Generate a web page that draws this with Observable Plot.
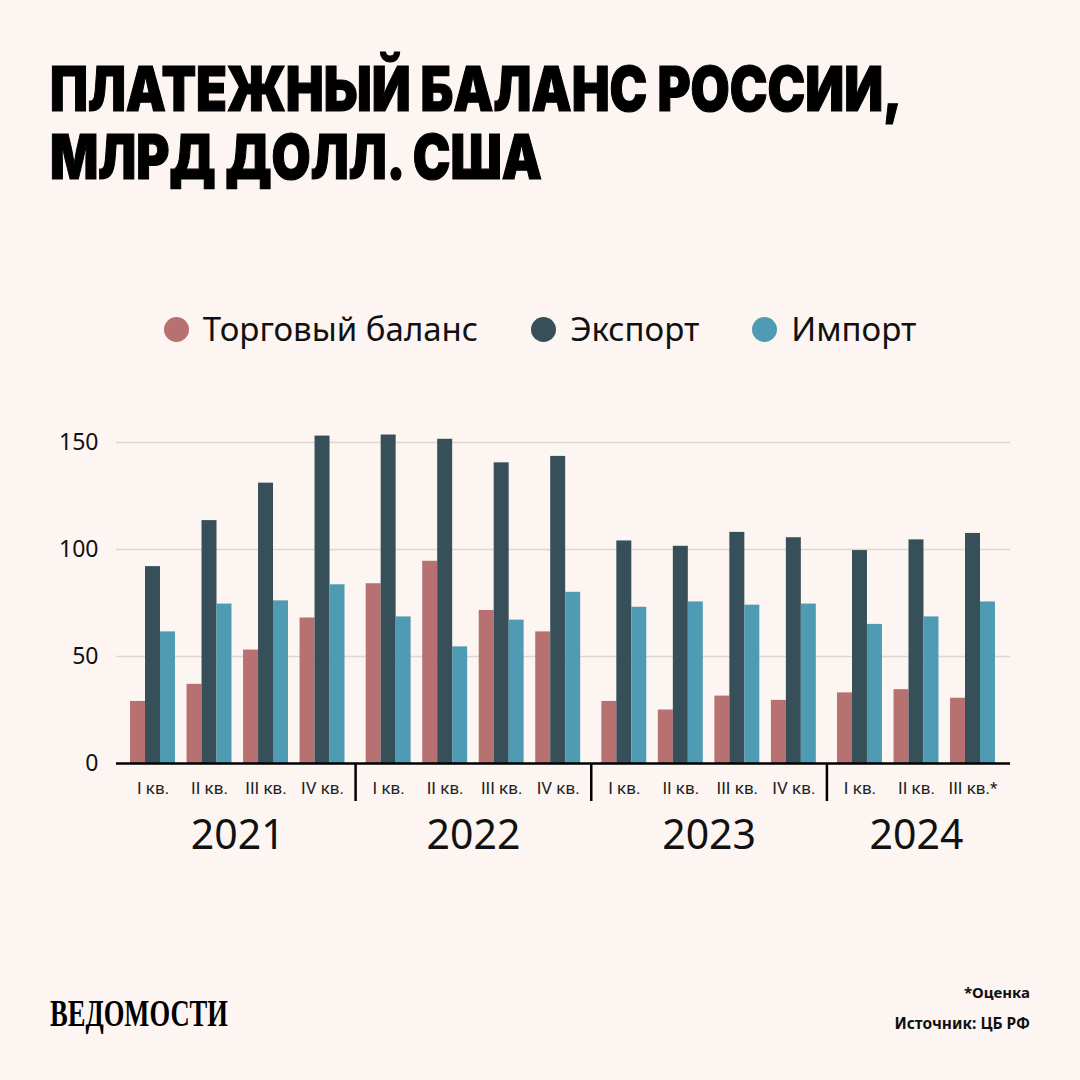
<!DOCTYPE html>
<html><head><meta charset="utf-8">
<script src="https://cdn.jsdelivr.net/npm/d3@7"></script>
<script src="https://cdn.jsdelivr.net/npm/@observablehq/plot@0.6"></script>
<style>
html,body{margin:0;padding:0;background:#fcf5f1;}
#page{position:relative;width:1080px;height:1080px;overflow:hidden;background:#fcf5f1;font-family:"Noto Sans",sans-serif;color:#111;}
.tline{position:absolute;left:50px;white-space:nowrap;font-family:Inter,"DejaVu Sans",sans-serif;font-weight:900;font-size:62px;line-height:1;transform-origin:0 0;color:#000;-webkit-text-stroke:1.2px #000;}
#legend{position:absolute;top:308px;left:0;width:1080px;display:flex;justify-content:center;align-items:center;gap:53px;font-size:33px;line-height:42px;}
.li{display:flex;align-items:center;gap:14px;}
.sw{width:25px;height:25px;border-radius:50%;}
#chart{position:absolute;top:400px;left:0;}
#logo{position:absolute;left:50px;top:994px;font-family:"Liberation Serif",serif;font-weight:bold;font-size:38px;line-height:1;white-space:nowrap;transform-origin:0 0;color:#000;}
.note{position:absolute;right:50px;font-weight:bold;white-space:nowrap;color:#111;}
</style></head>
<body><div id="page">
<div class="tline" id="t1">ПЛАТЕЖНЫЙ БАЛАНС РОССИИ,</div>
<div class="tline" id="t2">МЛРД ДОЛЛ. США</div>
<div id="legend"></div>
<div id="chart"></div>
<div id="logo">ВЕДОМОСТИ</div>
<div class="note" style="top:982px;font-size:15px;">*Оценка</div>
<div class="note" style="top:1012px;font-size:15.5px;">Источник: ЦБ РФ</div>
</div>
<script>
const years = ["2021","2022","2023","2024"];
const quarterLabels = ["I кв.","II кв.","III кв.","IV кв.","I кв.","II кв.","III кв.","IV кв.","I кв.","II кв.","III кв.","IV кв.","I кв.","II кв.","III кв.*"];
const quarterYears = ["2021","2021","2021","2021","2022","2022","2022","2022","2023","2023","2023","2023","2024","2024","2024"];
const tradeBalance = [29, 37, 53, 68, 84, 94.5, 71.5, 61.5, 29, 25, 31.5, 29.5, 33, 34.5, 30.5];
const exportsBn   = [92, 113.5, 131, 153, 153.5, 151.5, 140.5, 143.5, 104, 101.5, 108, 105.5, 99.5, 104.5, 107.5];
const importsBn   = [61.5, 74.5, 76, 83.5, 68.5, 54.5, 67, 80, 73, 75.5, 74, 74.5, 65, 68.5, 75.5];
const seriesNames = ["Торговый баланс","Экспорт","Импорт"];
const seriesColors = ["#b77171","#374f58","#4f9bb3"];
const yTicks = [0, 50, 100, 150];

// legend
const legend = document.getElementById("legend");
seriesNames.forEach((n,i)=>{
  const it = document.createElement("div"); it.className="li";
  const sw = document.createElement("div"); sw.className="sw"; sw.style.background=seriesColors[i];
  const tx = document.createElement("span"); tx.textContent=n;
  it.appendChild(sw); it.appendChild(tx); legend.appendChild(it);
});

const YEAR_GAP = 0.17, BAR = 0.265;
const slots = quarterLabels.map((q,i)=>({i, label:q, year:quarterYears[i], c: i + years.indexOf(quarterYears[i])*YEAR_GAP}));
const seriesValues = [tradeBalance, exportsBn, importsBn];
const bars = slots.flatMap(s => seriesValues.map((vals,j)=>({series:seriesNames[j], value:vals[s.i], x1:s.c+(j-1.5)*BAR, x2:s.c+(j-0.5)*BAR})));
const yearRows = years.map(y => ({year:y, c:d3.mean(slots.filter(s=>s.year===y), s=>s.c)}));
const seps = years.slice(1).map(y => {const f = slots.find(s=>s.year===y); return {c:(f.c+slots[f.i-1].c)/2};});

const FONT = "'Noto Sans', sans-serif";
const chart = Plot.plot({
  width:1080, height:470, marginLeft:116, marginRight:70, marginTop:0, marginBottom:0,
  style:{background:"transparent", fontFamily:FONT, color:"#111", overflow:"visible"},
  x:{type:"linear", domain:[0, slots[slots.length-1].c], range:[152.5, 972.5], axis:null},
  y:{domain:[0,150], range:[363,42], axis:null},
  color:{domain:seriesNames, range:seriesColors},
  marks:[
    Plot.ruleY(yTicks.slice(1), {stroke:"#ddd6d1", strokeWidth:1.5}),
    Plot.rect(bars, {x1:"x1", x2:"x2", y1:0, y2:"value", fill:"series"}),
    Plot.ruleY([0], {stroke:"#000", strokeWidth:2.5}),
    Plot.ruleX(seps, {x:"c", y1:0, y2:0, insetBottom:-38, stroke:"#000", strokeWidth:2.5}),
    Plot.text(yTicks, {y:d=>d, frameAnchor:"left", textAnchor:"end", dx:-18, fontSize:23, fill:"#111", fontFamily:FONT}),
    Plot.text(slots, {x:"c", y:0, text:"label", dy:25, fontSize:17, fill:"#222", fontFamily:"Roboto, 'Noto Sans', sans-serif"}),
    Plot.text(yearRows, {x:"c", y:0, text:"year", dy:72, fontSize:41, fill:"#111", fontFamily:FONT})
  ]
});
document.getElementById("chart").appendChild(chart);

// fit title / logo widths
function fit(el, w){ const r = el.getBoundingClientRect().width; return w/r; }
const t1 = document.getElementById("t1"), t2 = document.getElementById("t2");
t1.style.top = "58px"; t2.style.top = "126px";
const k = fit(t1, 852);
t1.style.transform = t2.style.transform = `scaleX(${k})`;
const logo = document.getElementById("logo");
logo.style.transform = `scaleX(${fit(logo,178)})`;
</script>
</body></html>
